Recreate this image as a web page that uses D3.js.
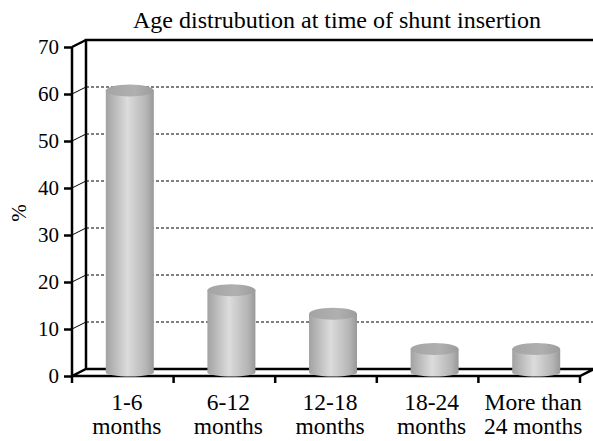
<!DOCTYPE html>
<html>
<head>
<meta charset="utf-8">
<script src="https://cdn.jsdelivr.net/npm/d3@7"></script>
<style>
  body { margin: 0; background: #fff; }
  svg { display: block; }
</style>
</head>
<body>
<svg width="593" height="441"></svg>
<script>
// data
var categories = ["1-6 months", "6-12 months", "12-18 months", "18-24 months", "More than 24 months"];
var labelLines = [["1-6", "months"], ["6-12", "months"], ["12-18", "months"], ["18-24", "months"], ["More than", "24 months"]];
var values = [60, 17.5, 12.5, 5, 5];
var yTicks = [0, 10, 20, 30, 40, 50, 60, 70];

var FONT = "'Liberation Serif', 'Times New Roman', serif";

var svg = d3.select("svg");

// depth of the 3d box
var dx = 14, dy = -7;

var x = d3.scaleBand().domain(categories).range([72, 580]);
var y = d3.scaleLinear().domain([0, 70]).range([376, 47]);

var defs = svg.append("defs");
var grad = defs.append("linearGradient").attr("id", "cyl").attr("x1", "0").attr("x2", "1");
grad.append("stop").attr("offset", "0%").attr("stop-color", "#a2a2a2");
grad.append("stop").attr("offset", "45%").attr("stop-color", "#dcdcdc");
grad.append("stop").attr("offset", "85%").attr("stop-color", "#b4b4b4");
grad.append("stop").attr("offset", "100%").attr("stop-color", "#989898");

var topGrad = defs.append("linearGradient").attr("id", "cyltop").attr("x1", "0").attr("x2", "1");
topGrad.append("stop").attr("offset", "0%").attr("stop-color", "#a4a4a4");
topGrad.append("stop").attr("offset", "60%").attr("stop-color", "#b0b0b0");
topGrad.append("stop").attr("offset", "100%").attr("stop-color", "#9c9c9c");

var x0 = x.range()[0], x1 = x.range()[1];

// title
svg.append("text")
    .attr("x", 337).attr("y", 28)
    .attr("text-anchor", "middle")
    .style("font-family", FONT)
    .style("font-size", "24px")
    .text("Age distrubution at time of shunt insertion");

// back wall gridlines
svg.append("g").selectAll("line")
    .data(yTicks.filter(function(d) { return d > 0 && d < 70; }))
    .enter().append("line")
      .attr("x1", x0 + dx).attr("x2", 593)
      .attr("y1", function(d) { return y(d) + dy; })
      .attr("y2", function(d) { return y(d) + dy; })
      .attr("stroke", "#000")
      .attr("stroke-width", 1)
      .attr("stroke-dasharray", "3,2");

// side wall slanted ticks
svg.append("g").selectAll("line")
    .data(yTicks.filter(function(d) { return d > 0 && d < 70; }))
    .enter().append("line")
      .attr("x1", x0).attr("x2", x0 + dx)
      .attr("y1", function(d) { return y(d); })
      .attr("y2", function(d) { return y(d) + dy; })
      .attr("stroke", "#000")
      .attr("stroke-width", 1);

// back wall frame
svg.append("path")
    .attr("d", "M" + (x0 + dx) + "," + (y(0) + dy) + "V" + (y(70) + dy) + "H593")
    .attr("fill", "none").attr("stroke", "#000").attr("stroke-width", 2.5);
svg.append("line")
    .attr("x1", x0).attr("y1", y(70)).attr("x2", x0 + dx).attr("y2", y(70) + dy)
    .attr("stroke", "#000").attr("stroke-width", 2.5);

// floor
svg.append("path")
    .attr("d", "M" + x0 + "," + y(0) + "H" + x1 + "L" + (x1 + dx) + "," + (y(0) + dy) +
      "H" + (x0 + dx) + "Z")
    .attr("fill", "#fff").attr("stroke", "#000").attr("stroke-width", 2.5)
    .attr("stroke-linejoin", "miter");

// front y axis
var yAxis = d3.axisLeft(y).tickValues(yTicks).tickSize(8).tickPadding(5);
var ya = svg.append("g").attr("transform", "translate(" + x0 + ",0)").call(yAxis)
    .attr("font-family", null).attr("font-size", null);
ya.select(".domain").attr("stroke-width", 2.5).attr("d", "M0," + y(0) + "V" + y(70));
ya.selectAll(".tick line").attr("stroke-width", 2.5);
ya.selectAll(".tick text")
    .attr("fill", "#000")
    .style("font-family", FONT)
    .style("font-size", "21px");

// x axis ticks
var xTickPos = categories.map(function(c) { return x(c); }).concat([x1]);
svg.append("g").selectAll("line")
    .data(xTickPos)
    .enter().append("line")
      .attr("x1", function(d) { return d; }).attr("x2", function(d) { return d; })
      .attr("y1", y(0)).attr("y2", y(0) + 7)
      .attr("stroke", "#000").attr("stroke-width", 2.5);

// cylinders
var r = 24;
var ryTop = 6, ryBot = 4;
var bars = svg.append("g").selectAll("g")
    .data(values)
    .enter().append("g");

function cx(i) { return x(categories[i]) + x.bandwidth() / 2 + dx / 2; }

bars.append("path")
    .attr("d", function(d, i) {
      var c = cx(i), yb = y(0) + dy / 2, yt = y(d) + dy / 2;
      return "M" + (c - r) + "," + yt + "V" + yb +
        "A" + r + "," + ryBot + " 0 0 0 " + (c + r) + "," + yb +
        "V" + yt + "Z";
    })
    .attr("fill", "url(#cyl)");

bars.append("ellipse")
    .attr("cx", function(d, i) { return cx(i); })
    .attr("cy", function(d) { return y(d) + dy / 2; })
    .attr("rx", r).attr("ry", ryTop)
    .attr("fill", "url(#cyltop)");

// y title
svg.append("text")
    .attr("transform", "translate(26,213) rotate(-90)")
    .attr("text-anchor", "middle")
    .style("font-family", FONT)
    .style("font-size", "21px")
    .text("%");

// category labels
var lab = svg.append("g").selectAll("text")
    .data(labelLines)
    .enter().append("text")
      .attr("text-anchor", "middle")
      .style("font-family", FONT)
      .style("font-size", "23.5px")
      .attr("x", function(d, i) { return x(categories[i]) + x.bandwidth() / 2 + 4; })
      .attr("y", 410);
lab.selectAll("tspan")
    .data(function(d) { return d; })
    .enter().append("tspan")
      .attr("x", function() { return d3.select(this.parentNode).attr("x"); })
      .attr("dy", function(d, j) { return j === 0 ? 0 : 24; })
      .text(function(d) { return d; });
</script>
</body>
</html>
